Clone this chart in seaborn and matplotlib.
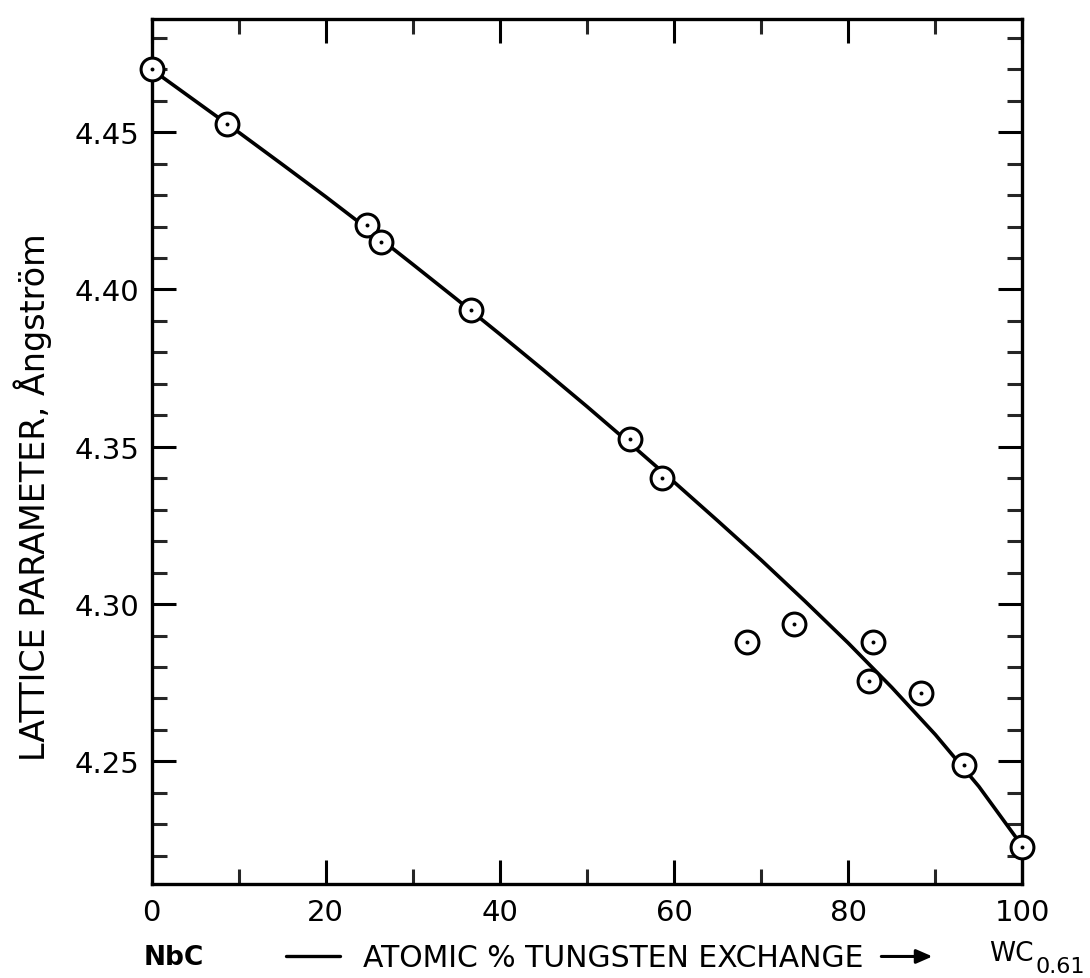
import matplotlib
matplotlib.use("Agg")
import numpy as np
import pandas as pd
import matplotlib.pyplot as plt
import seaborn as sns
from matplotlib.ticker import MultipleLocator
from matplotlib.lines import Line2D

# measured points (atomic % W exchange, lattice parameter in Angstrom)
pct_w = [0.0, 8.7, 24.8, 26.3, 36.7, 54.9, 58.6, 68.4, 73.8, 82.8, 82.4, 88.3, 93.3, 100.0]
lattice = [4.470, 4.4526, 4.4205, 4.415, 4.3936, 4.3526, 4.340, 4.288, 4.2936,
           4.288, 4.2756, 4.2718, 4.2487, 4.2228]

# smooth curve
curve_x = [0, 5, 10, 15, 20, 25, 30, 35, 40, 45, 50, 55, 60, 65, 70, 75, 80, 85, 90, 95, 100]
curve_y = [4.4700, 4.4600, 4.4500, 4.4398, 4.4295, 4.4189, 4.4080, 4.3970, 4.3858,
           4.3744, 4.3628, 4.3509, 4.3388, 4.3265, 4.3140, 4.3010, 4.2876, 4.2735,
           4.2585, 4.2420, 4.2230]

y_ticks = [4.25, 4.30, 4.35, 4.40, 4.45]
x_ticks = [0, 20, 40, 60, 80, 100]

pts = pd.DataFrame({"x": pct_w, "y": lattice})
crv = pd.DataFrame({"x": curve_x, "y": curve_y})

sns.set_theme(style="ticks")
plt.rcParams['font.family'] = ['DejaVu Sans']
plt.rcParams['text.color'] = 'black'

fig = plt.figure(figsize=(10.9, 9.79), dpi=100)
ax = fig.add_axes([0.139, 0.096, 0.799, 0.8836])

sns.lineplot(data=crv, x="x", y="y", ax=ax, color="black", linewidth=2.6, zorder=2)
sns.scatterplot(data=pts, x="x", y="y", ax=ax, s=270, facecolor="white",
                edgecolor="black", linewidth=2.2, zorder=3, clip_on=False)
sns.scatterplot(data=pts, x="x", y="y", ax=ax, s=8, color="black",
                linewidth=0, zorder=4, clip_on=False)

ax.set_xlim(0, 100)
ax.set_ylim(4.211, 4.486)
ax.set_xticks(x_ticks)
ax.set_yticks(y_ticks)
ax.set_xticklabels([str(v) for v in x_ticks])
ax.set_yticklabels([f"{v:.2f}" for v in y_ticks])
ax.xaxis.set_minor_locator(MultipleLocator(10))
ax.yaxis.set_minor_locator(MultipleLocator(0.01))

for s in ax.spines.values():
    s.set_linewidth(2.4)
    s.set_color("black")

ax.tick_params(axis="both", which="major", direction="in", length=17, width=2.2,
               top=True, right=True, labelsize=21, colors="black")
ax.tick_params(axis="both", which="minor", direction="in", length=11, width=2.2,
               top=True, right=True)
ax.tick_params(axis="x", which="major", pad=10)
ax.tick_params(axis="y", which="major", pad=9)
ax.set_xlabel("")
ax.set_ylabel("")

fig.text(0.030, 0.492, "LATTICE PARAMETER, Ångström", rotation=90,
         ha="center", va="center", fontsize=24)

# bottom caption
fig.text(0.159, 0.021, "NbC", ha="center", va="center", fontsize=19, fontweight="bold")
fig.add_artist(Line2D([0.262, 0.312], [0.022, 0.022], color="black", lw=2.4,
                      transform=fig.transFigure))
fig.text(0.333, 0.021, "ATOMIC % TUNGSTEN EXCHANGE", ha="left", va="center", fontsize=21.5)
ax.annotate("", xy=(0.858, 0.022), xytext=(0.806, 0.022), xycoords="figure fraction",
            arrowprops=dict(arrowstyle="-|>,head_length=0.8,head_width=0.35",
                            color="black", lw=2.2), annotation_clip=False)
fig.text(0.907, 0.026, "WC", ha="left", va="center", fontsize=19)
fig.text(0.950, 0.012, "0.61", ha="left", va="center", fontsize=16)

fig.savefig("out.png", dpi=100, facecolor="white")
